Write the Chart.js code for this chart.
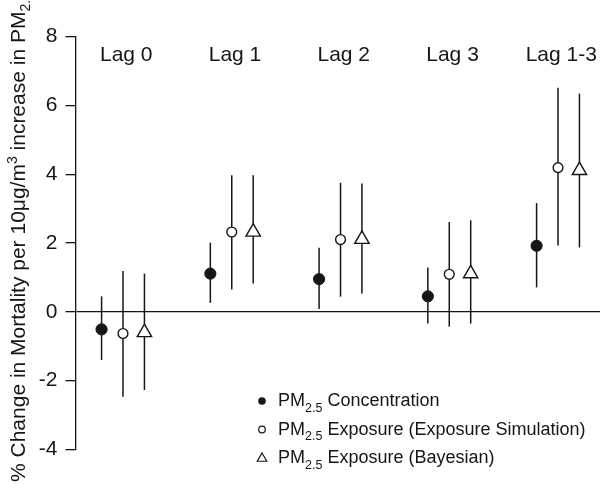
<!DOCTYPE html>
<html>
<head>
<meta charset="utf-8">
<script src="https://cdn.jsdelivr.net/npm/chart.js@4.4.1/dist/chart.umd.min.js"></script>
<style>
  html, body { margin: 0; padding: 0; background: #ffffff; }
  #wrap { width: 600px; height: 484px; position: relative; }
</style>
</head>
<body>
<div id="wrap"><canvas id="c" width="600" height="484"></canvas></div>
<script>
// ---- data ----
const lagLabels = ["Lag 0", "Lag 1", "Lag 2", "Lag 3", "Lag 1-3"];

const concEst   = [-0.51, 1.11, 0.95, 0.45, 1.92];
const concLow   = [-1.40, 0.26, 0.08, -0.34, 0.71];
const concHigh  = [ 0.45, 2.01, 1.86, 1.29, 3.16];

const simEst    = [-0.63, 2.32, 2.10, 1.09, 4.19];
const simLow    = [-2.47, 0.65, 0.44, -0.43, 1.93];
const simHigh   = [ 1.19, 3.97, 3.75, 2.61, 6.51];

const bayEst    = [-0.60, 2.32, 2.11, 1.11, 4.11];
const bayLow    = [-2.27, 0.82, 0.53, -0.34, 1.87];
const bayHigh   = [ 1.11, 3.97, 3.73, 2.66, 6.34];

const yTicks = [-4, -2, 0, 2, 4, 6, 8];
const groupOffsets = [-0.197, 0, 0.197];

const seriesNames = ["Concentration", "Exposure (Exposure Simulation)", "Exposure (Bayesian)"];

const FONT = "'Liberation Sans', Arial, Helvetica, sans-serif";
const INK = "#161616";

function pts(est, off) { return est.map((v, i) => ({ x: i + off, y: v })); }

const errorBars = {
  id: 'errorBars',
  beforeDatasetsDraw(chart) {
    const ctx = chart.ctx, xs = chart.scales.x, ys = chart.scales.y;
    const sets = [[concLow, concHigh], [simLow, simHigh], [bayLow, bayHigh]];
    ctx.save();
    ctx.strokeStyle = INK;
    ctx.lineWidth = 1.5;
    sets.forEach((s, k) => {
      s[0].forEach((lo, i) => {
        const px = xs.getPixelForValue(i + groupOffsets[k]);
        ctx.beginPath();
        ctx.moveTo(px, ys.getPixelForValue(lo));
        ctx.lineTo(px, ys.getPixelForValue(s[1][i]));
        ctx.stroke();
      });
    });
    ctx.restore();
  },
  afterDraw(chart) {
    const ctx = chart.ctx, xs = chart.scales.x;
    ctx.save();
    ctx.fillStyle = INK;
    // lag labels
    ctx.font = "21px " + FONT;
    ctx.textAlign = "center";
    ctx.textBaseline = "alphabetic";
    lagLabels.forEach((l, i) => {
      ctx.fillText(l, xs.getPixelForValue(i + 0.03), 61);
    });

    // y-axis title (rotated, with super/subscripts)
    ctx.save();
    ctx.translate(25, 482);
    ctx.rotate(-Math.PI / 2);
    ctx.textAlign = "left";
    const parts = [
      { t: "% Change in Mortality per 10\u03bcg/m", f: 21, dy: 0 },
      { t: "3", f: 14, dy: -8 },
      { t: " increase in PM", f: 21, dy: 0 },
      { t: "2.5", f: 14, dy: 5 }
    ];
    let x = 0;
    parts.forEach(p => {
      ctx.font = p.f + "px " + FONT;
      ctx.fillText(p.t, x, p.dy);
      x += ctx.measureText(p.t).width;
    });
    ctx.restore();

    // legend
    const rows = [406, 434.5, 463];
    const mx = 262, tx = 278;
    rows.forEach((by, k) => {
      const cy = by - 5;
      ctx.strokeStyle = INK;
      ctx.lineWidth = 1.2;
      ctx.beginPath();
      if (k === 0) {
        ctx.arc(mx, cy, 3.8, 0, Math.PI * 2);
        ctx.fill();
      } else if (k === 1) {
        ctx.arc(mx, cy, 3.3, 0, Math.PI * 2);
        ctx.stroke();
      } else {
        const r = 5.5;
        ctx.moveTo(mx, cy - r + 0.5);
        ctx.lineTo(mx + r * 0.866, cy + r * 0.5 + 0.5);
        ctx.lineTo(mx - r * 0.866, cy + r * 0.5 + 0.5);
        ctx.closePath();
        ctx.stroke();
      }
      ctx.textAlign = "left";
      let x2 = tx;
      ctx.font = "18px " + FONT;
      ctx.fillText("PM", x2, by);
      x2 += ctx.measureText("PM").width;
      ctx.font = "12.5px " + FONT;
      ctx.fillText("2.5", x2, by + 5.5);
      x2 += ctx.measureText("2.5").width;
      ctx.font = "18px " + FONT;
      ctx.fillText(" " + seriesNames[k], x2, by);
    });
    ctx.restore();
  }
};

new Chart(document.getElementById('c'), {
  type: 'scatter',
  data: {
    datasets: [
      { data: pts(concEst, groupOffsets[0]), pointStyle: 'circle', pointRadius: 5.6,
        backgroundColor: INK, borderColor: INK, borderWidth: 1 },
      { data: pts(simEst, groupOffsets[1]), pointStyle: 'circle', pointRadius: 4.9,
        backgroundColor: '#ffffff', borderColor: INK, borderWidth: 1.4 },
      { data: pts(bayEst, groupOffsets[2]), pointStyle: 'triangle', pointRadius: 8.3,
        backgroundColor: '#ffffff', borderColor: INK, borderWidth: 1.4 }
    ]
  },
  options: {
    responsive: false,
    animation: false,
    events: [],
    layout: { autoPadding: false, padding: { top: 36.5, bottom: 34.5, left: 0, right: 0 } },
    plugins: { legend: { display: false }, tooltip: { enabled: false } },
    scales: {
      x: { type: 'linear', display: false, min: -0.4368, max: 4.386 },
      y: {
        type: 'linear', min: -4, max: 8,
        afterFit(scale) { scale.width = 75.5; },
        afterBuildTicks(scale) { scale.ticks = yTicks.map(v => ({ value: v })); },
        ticks: { color: INK, font: { size: 21, family: FONT }, padding: 8 },
        grid: {
          drawOnChartArea: true,
          color: c => (c.tick && c.tick.value === 0) ? INK : 'rgba(0,0,0,0)',
          tickColor: INK, tickLength: 10, lineWidth: 1.3
        },
        border: { display: true, color: INK, width: 1.3 }
      }
    }
  },
  plugins: [errorBars]
});
</script>
</body>
</html>
